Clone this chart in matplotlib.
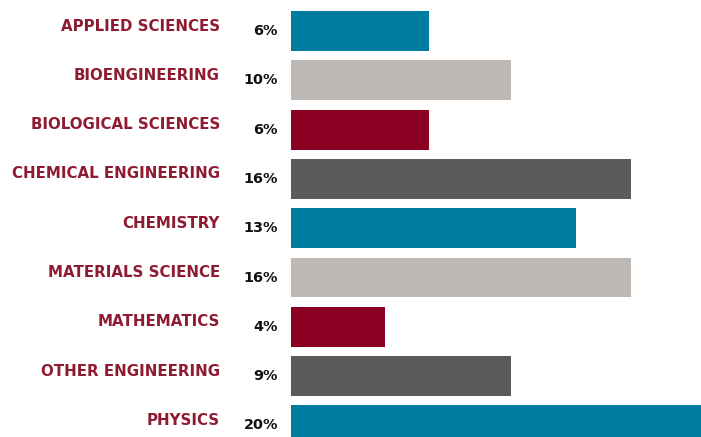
import matplotlib
matplotlib.use("Agg")
import matplotlib.pyplot as plt
import matplotlib.transforms as mtransforms

categories = ["APPLIED SCIENCES", "BIOENGINEERING", "BIOLOGICAL SCIENCES",
              "CHEMICAL ENGINEERING", "CHEMISTRY", "MATERIALS SCIENCE",
              "MATHEMATICS", "OTHER ENGINEERING", "PHYSICS"]
pct_labels = ["6%", "10%", "6%", "16%", "13%", "16%", "4%", "9%", "20%"]
# bar lengths as drawn in the reference (percent units)
bar_values = [6.5, 10.35, 6.5, 16.0, 13.4, 16.0, 4.4, 10.35, 21.0]

teal = "#007CA0"
light = "#BEB9B5"
red = "#8B0022"
dark = "#5A5B5D"
colors = [teal, light, red, dark, teal, light, red, dark, teal]
label_color = "#8E1B32"

fig = plt.figure(figsize=(7.01, 4.37), dpi=100)
ax = fig.add_axes([291 / 701, 0, 410 / 701, 1])
ypos = list(range(len(categories)))
ax.barh(ypos, bar_values, height=0.81, color=colors, linewidth=0)
ax.set_xlim(0, 410 / 21.25)
ax.set_ylim(8.235, -0.629)
ax.axis("off")

trans = mtransforms.blended_transform_factory(fig.transFigure, ax.transData)
for i, (cat, pl) in enumerate(zip(categories, pct_labels)):
    fig.text(220 / 701, i - 0.1, cat, transform=trans, ha="right", va="center",
             color=label_color, fontsize=10.8, fontfamily="DejaVu Sans",
             fontweight="bold")
    fig.text(278 / 701, i, pl, transform=trans, ha="right", va="center",
             color="#111111", fontsize=10.4, fontfamily="DejaVu Sans",
             fontweight="bold")

fig.savefig("out.png", dpi=100)
